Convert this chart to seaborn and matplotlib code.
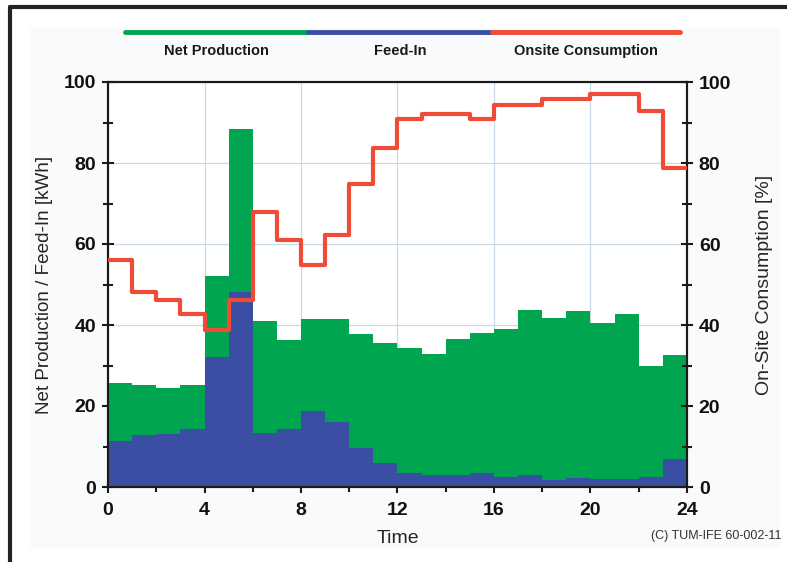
import numpy as np
import pandas as pd
import seaborn as sns
import matplotlib as mpl
import matplotlib.pyplot as plt
from matplotlib.lines import Line2D
from matplotlib.patches import Rectangle
from matplotlib.ticker import MultipleLocator

mpl.use('Agg')

# hourly values
hours = list(range(24))
net_production = [25.8, 25.1, 24.4, 25.3, 52.1, 88.5, 41.0, 36.2, 41.4, 41.4, 37.9, 35.5,
                  34.3, 32.9, 36.6, 38.0, 39.1, 43.6, 41.7, 43.4, 40.6, 42.6, 30.0, 32.5]
feed_in = [11.4, 12.9, 13.2, 14.4, 32.1, 48.1, 13.3, 14.2, 18.8, 16.0, 9.6, 6.0,
           3.5, 3.0, 3.0, 3.5, 2.5, 2.9, 1.8, 2.3, 1.9, 1.9, 2.5, 6.8]
onsite = [56.0, 48.1, 46.1, 42.8, 38.8, 46.1, 67.9, 60.9, 54.9, 62.1, 74.9, 83.8,
          90.9, 92.2, 92.2, 90.9, 94.2, 94.2, 95.9, 95.9, 97.1, 97.1, 92.8, 78.8]
legend_labels = ['Net Production', 'Feed-In', 'Onsite Consumption']

green = '#00a550'
blue = '#3a4ea3'
red = '#ef4b36'

sns.set_theme(style='white')
plt.rcParams['font.family'] = ['Liberation Sans', 'DejaVu Sans']

df = pd.DataFrame({'hour': hours, 'net': net_production, 'feed': feed_in})
df['mid'] = df['hour'] + 0.5

fig = plt.figure(figsize=(7.87, 5.62), dpi=100)
fig.patch.set_facecolor('white')

# outer frame and light panel
fig.add_artist(Rectangle((30 / 787, 1 - 548 / 562), 750 / 787, 520 / 562,
                         transform=fig.transFigure, facecolor='#f9fafc', edgecolor='none', zorder=-5))
fig.add_artist(Line2D([10 / 787, 10 / 787], [0, 1 - 7 / 562], transform=fig.transFigure,
                      color='#222222', lw=3))
fig.add_artist(Line2D([10 / 787, 1], [1 - 7 / 562, 1 - 7 / 562], transform=fig.transFigure,
                      color='#222222', lw=3))

ax = fig.add_axes([108 / 787, 1 - 487 / 562, 579 / 787, 405 / 562])
ax.set_facecolor('white')

sns.histplot(data=df, x='mid', weights='net', bins=24, binrange=(0, 24), element='step',
             color=green, alpha=1, linewidth=0, ax=ax, zorder=2)
sns.histplot(data=df, x='mid', weights='feed', bins=24, binrange=(0, 24), element='step',
             color=blue, alpha=1, linewidth=0, ax=ax, zorder=3)

ax.set_xlim(0, 24)
ax.set_ylim(0, 100)
ax.xaxis.set_major_locator(MultipleLocator(4))
ax.xaxis.set_minor_locator(MultipleLocator(2))
ax.yaxis.set_major_locator(MultipleLocator(20))
ax.yaxis.set_minor_locator(MultipleLocator(10))
ax.grid(True, which='major', color='#c9d9e8', lw=0.9, zorder=0)
ax.set_axisbelow(True)

ax2 = ax.twinx()
step_x = hours + [24]
step_y = onsite + [onsite[-1]]
sns.lineplot(x=step_x, y=step_y, drawstyle='steps-post', color=red, lw=3, ax=ax2, zorder=5)
ax2.set_ylim(0, 100)
ax2.yaxis.set_major_locator(MultipleLocator(20))
ax2.yaxis.set_minor_locator(MultipleLocator(10))

for a in (ax, ax2):
    for s in a.spines.values():
        s.set_color('#1a1a1a')
        s.set_linewidth(1.5)
    a.tick_params(which='major', direction='inout', length=9, width=1.5, color='#1a1a1a',
                  labelsize=14, labelcolor='#111111')
    a.tick_params(which='minor', direction='inout', length=7, width=1.5, color='#1a1a1a')
    for lab in a.get_xticklabels() + a.get_yticklabels():
        lab.set_fontweight('bold')
ax.tick_params(axis='x', pad=6)
ax.tick_params(axis='y', pad=4, left=True)
ax.tick_params(axis='x', which='both', bottom=True)
ax.tick_params(axis='y', which='minor', left=True)
ax2.tick_params(axis='y', which='both', right=True, pad=4)

ax.set_xlabel('Time', fontsize=14, labelpad=8)
ax.set_ylabel('Net Production / Feed-In [kWh]', fontsize=13.6, labelpad=8)
ax2.set_ylabel('On-Site Consumption [%]', fontsize=14, labelpad=18)

# legend strip at the top
xs = [125, 308, 492, 680]
for i, c in enumerate([green, blue, red]):
    fig.add_artist(Line2D([xs[i] / 787, xs[i + 1] / 787], [1 - 32 / 562] * 2,
                          transform=fig.transFigure, color=c, lw=3.5))
    fig.text((xs[i] + xs[i + 1]) / 2 / 787, 1 - 51 / 562, legend_labels[i],
             ha='center', va='center', fontsize=10.5, fontweight='bold', color='#1a1a1a')

fig.text(716 / 787, 1 - 536 / 562, '(C) TUM-IFE 60-002-11', ha='center', va='center',
         fontsize=9, color='#333333')

fig.savefig('out.png', dpi=100)
